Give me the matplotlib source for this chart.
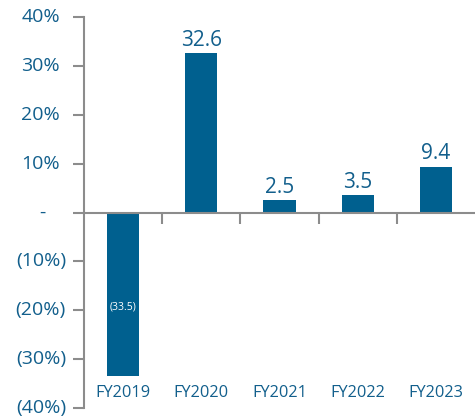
import matplotlib
matplotlib.use("Agg")
import matplotlib.pyplot as plt
import matplotlib.transforms as mtransforms

plt.rcParams['font.family'] = ['Open Sans', 'DejaVu Sans']

years = ["FY2019", "FY2020", "FY2021", "FY2022", "FY2023"]
growth = [-33.5, 32.6, 2.5, 3.5, 9.4]
value_labels = ["(33.5)", "32.6", "2.5", "3.5", "9.4"]
ytick_vals = [-40, -30, -20, -10, 0, 10, 20, 30, 40]
ytick_text = ["(40%)", "(30%)", "(20%)", "(10%)", "-", "10%", "20%", "30%", "40%"]

BAR = "#00608f"
TXT = "#125f8c"
AXC = "#8c8c8c"

fig = plt.figure(figsize=(4.75, 4.2), dpi=100)
ax = fig.add_axes([84 / 475, 12 / 420, 391 / 475, 391 / 420])

x = list(range(len(years)))
ax.bar(x, growth, width=0.41, color=BAR, zorder=2)

ax.set_xlim(-0.5, len(years) - 0.5)
ax.set_ylim(-40, 40)

for side in ("top", "right"):
    ax.spines[side].set_visible(False)
ax.spines["left"].set_color(AXC)
ax.spines["left"].set_linewidth(1.5)
ax.spines["bottom"].set_position(("data", 0))
ax.spines["bottom"].set_color(AXC)
ax.spines["bottom"].set_linewidth(1.5)

# category separators on the zero line
ax.set_xticks([i + 0.5 for i in range(len(years) - 1)])
ax.set_xticklabels([])
ax.tick_params(axis="x", direction="out", length=8, width=1.5, color=AXC)

ax.set_yticks(ytick_vals)
ax.set_yticklabels([])
ax.tick_params(axis="y", direction="out", length=8, width=1.5, color=AXC)

# y labels in accounting style
trans = mtransforms.blended_transform_factory(fig.transFigure, ax.transData)
for v, t in zip(ytick_vals, ytick_text):
    if t == "-":
        ax.text(42 / 475, v, t, transform=trans, ha="center", va="center",
                fontsize=14, color=TXT)
    elif t.startswith("("):
        ax.text(66 / 475, v, t, transform=trans, ha="right", va="center",
                fontsize=14, color=TXT)
    else:
        ax.text(60 / 475, v, t, transform=trans, ha="right", va="center",
                fontsize=14, color=TXT)

# category names near bottom
for i, name in enumerate(years):
    ax.text(i, -37, name, ha="center", va="center", fontsize=11.8, color=TXT)

# value labels
for i, (v, lab) in enumerate(zip(growth, value_labels)):
    if v < 0:
        ax.text(i, v * 0.58, lab, ha="center", va="center", fontsize=7.5,
                color="white", zorder=3)
    else:
        ax.annotate(lab, (i, v), xytext=(0, 1.5), textcoords="offset points",
                    ha="center", va="bottom", fontsize=15, color=TXT)

fig.savefig("out.png", dpi=100)
